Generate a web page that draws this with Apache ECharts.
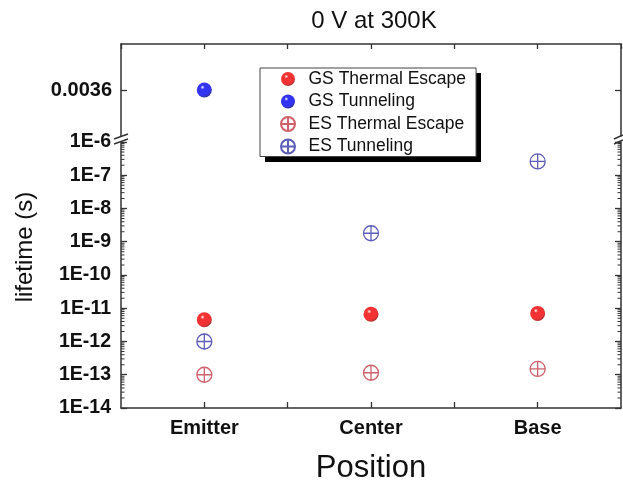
<!DOCTYPE html>
<html>
<head>
<meta charset="utf-8">
<script src="https://cdn.jsdelivr.net/npm/echarts@6/dist/echarts.min.js"></script>
<style>
html,body{margin:0;padding:0;background:#fff;}
#chart{width:623px;height:489px;}
</style>
</head>
<body>
<div id="chart"></div>
<script>
// ---- data ----
var categories = ['Emitter', 'Center', 'Base'];
var gsThermalEscape = [4.5e-12, 6.6e-12, 7.0e-12];
var gsTunneling = [0.0036, null, null];
var esThermalEscape = [1.0e-13, 1.15e-13, 1.5e-13];
var esTunneling = [1.0e-12, 1.8e-9, 2.6e-7];
var topTicks = [0.0036];
var logMin = 1e-14, logMax = 1e-6;

function toPairs(arr) {
  var out = [];
  arr.forEach(function (v, i) { if (v != null) out.push([i + 1, v]); });
  return out;
}
// minor tick values (2..9 x 10^n)
var minorVals = [];
for (var e = -14; e < -6; e++) {
  for (var k = 2; k <= 9; k++) minorVals.push(k * Math.pow(10, e));
}

function ball(base, dark) {
  return {
    type: 'radial', x: 0.38, y: 0.32, r: 0.7,
    colorStops: [
      { offset: 0, color: '#ffffff' },
      { offset: 0.2, color: base },
      { offset: 0.75, color: base },
      { offset: 1, color: dark }
    ]
  };
}
var crossPath = 'path://M0,10 A10,10 0 1 1 20,10 A10,10 0 1 1 0,10 Z M0,10 L20,10 M10,0 L10,20';
var axisColor = '#333';
var font = 'Liberation Sans, Arial, sans-serif';

var chart = echarts.init(document.getElementById('chart'));
var option = {
  animation: false,
  backgroundColor: '#fff',
  grid: [
    { left: 121, right: 2, top: 44, height: 92 },
    { left: 121, right: 2, top: 142, bottom: 75 }
  ],
  xAxis: [
    {
      gridIndex: 0, type: 'value', min: 0.5, max: 3.5, interval: 0.5, position: 'top',
      axisLine: { show: true, lineStyle: { color: axisColor, width: 1.5 } },
      axisTick: { show: true, inside: true, length: 5, lineStyle: { color: axisColor, width: 1.3 } },
      axisLabel: { show: false }, splitLine: { show: false }
    },
    {
      gridIndex: 1, type: 'value', min: 0.5, max: 3.5, interval: 0.5, position: 'bottom',
      axisLine: { show: true, lineStyle: { color: axisColor, width: 1.5 } },
      axisTick: { show: true, inside: true, length: 6, lineStyle: { color: axisColor, width: 1.3 } },
      axisLabel: {
        show: true, margin: 10, color: '#111', fontFamily: font, fontWeight: 'bold', fontSize: 20,
        showMinLabel: false, showMaxLabel: false,
        formatter: function (v) {
          var i = Math.round(v);
          return Math.abs(v - i) < 1e-6 && categories[i - 1] ? categories[i - 1] : '';
        }
      },
      splitLine: { show: false },
      name: 'Position', nameLocation: 'middle', nameGap: 45,
      nameTextStyle: { fontFamily: font, fontSize: 31, color: '#111' }
    }
  ],
  yAxis: [
    {
      gridIndex: 0, type: 'value', min: 0.0026, max: 0.0046, position: 'left',
      axisLine: { show: true, lineStyle: { color: axisColor, width: 1.5 } },
      axisTick: { show: true, inside: true, length: 6, customValues: topTicks, lineStyle: { color: axisColor, width: 1.3 } },
      axisLabel: { show: true, margin: 9, customValues: topTicks, color: '#111', fontFamily: font, fontWeight: 'bold', fontSize: 20,
        formatter: function (v) { return String(v); } },
      splitLine: { show: false }
    },
    {
      gridIndex: 0, type: 'value', min: 0.0026, max: 0.0046, position: 'right',
      axisLine: { show: true, lineStyle: { color: axisColor, width: 1.5 } },
      axisTick: { show: true, inside: true, length: 6, customValues: topTicks, lineStyle: { color: axisColor, width: 1.3 } },
      axisLabel: { show: false }, splitLine: { show: false }
    },
    {
      gridIndex: 1, type: 'log', logBase: 10, min: logMin, max: logMax, splitNumber: 8, position: 'left',
      axisLine: { show: true, lineStyle: { color: axisColor, width: 1.5 } },
      axisTick: { show: true, inside: true, length: 6, lineStyle: { color: axisColor, width: 1.3 } },
      axisLabel: { show: true, margin: 10, color: '#111', fontFamily: font, fontWeight: 'bold', fontSize: 19.5,
        formatter: function (v) { return '1E' + Math.round(Math.log10(v)); } },
      splitLine: { show: false }
    },
    {
      gridIndex: 1, type: 'log', logBase: 10, min: logMin, max: logMax, splitNumber: 8, position: 'right',
      axisLine: { show: true, lineStyle: { color: axisColor, width: 1.5 } },
      axisTick: { show: true, inside: true, length: 6, lineStyle: { color: axisColor, width: 1.3 } },
      axisLabel: { show: false }, splitLine: { show: false }
    }
  ],
  legend: {
    orient: 'vertical', left: 260, top: 68, z: 10,
    padding: [2, 10, 1, 20], itemGap: 4.5, itemWidth: 31, itemHeight: 14,
    backgroundColor: '#fff', borderColor: '#444', borderWidth: 1,
    textStyle: { fontFamily: font, fontSize: 17.5, lineHeight: 17, color: '#111' },
    data: ['GS Thermal Escape', 'GS Tunneling', 'ES Thermal Escape', 'ES Tunneling']
  },
  graphic: [
    { type: 'text', x: 25, y: 247, rotation: Math.PI / 2,
      style: { text: 'lifetime (s)', font: '24px ' + font, fill: '#111', textAlign: 'center', textVerticalAlign: 'middle' } },
    { type: 'text', x: 374, y: 21,
      style: { text: '0 V at 300K', font: '24px ' + font, fill: '#111', textAlign: 'center', textVerticalAlign: 'middle' } },
    // legend drop shadow (drawn behind the legend box)
    { type: 'rect', z: 5, shape: { x: 265, y: 73, width: 216, height: 89 }, style: { fill: '#000' } },
    // axis break marks
    { type: 'line', shape: { x1: 114, y1: 139, x2: 128, y2: 134 }, style: { stroke: axisColor, lineWidth: 1.5 } },
    { type: 'line', shape: { x1: 114, y1: 144, x2: 128, y2: 139 }, style: { stroke: axisColor, lineWidth: 1.5 } },
    { type: 'line', shape: { x1: 614, y1: 139, x2: 623, y2: 135 }, style: { stroke: axisColor, lineWidth: 1.5 } },
    { type: 'line', shape: { x1: 614, y1: 144, x2: 623, y2: 140 }, style: { stroke: axisColor, lineWidth: 1.5 } }
  ],
  series: [
    {
      name: 'GS Thermal Escape', type: 'scatter', xAxisIndex: 1, yAxisIndex: 2,
      symbol: 'circle', symbolSize: 15,
      itemStyle: { color: ball('#f00000', '#990000') },
      data: toPairs(gsThermalEscape), z: 3
    },
    {
      name: 'GS Tunneling', type: 'scatter', xAxisIndex: 0, yAxisIndex: 0,
      symbol: 'circle', symbolSize: 15,
      itemStyle: { color: ball('#0000f0', '#000080') },
      data: toPairs(gsTunneling), z: 3
    },
    {
      name: 'ES Thermal Escape', type: 'scatter', xAxisIndex: 1, yAxisIndex: 2,
      symbol: crossPath, symbolSize: 15,
      itemStyle: { color: 'rgba(0,0,0,0)', borderColor: '#c23a44', borderWidth: 1.3 },
      data: toPairs(esThermalEscape), z: 3
    },
    {
      name: 'ES Tunneling', type: 'scatter', xAxisIndex: 1, yAxisIndex: 2,
      symbol: crossPath, symbolSize: 15,
      itemStyle: { color: 'rgba(0,0,0,0)', borderColor: '#3535a8', borderWidth: 1.3 },
      data: toPairs(esTunneling), z: 3
    },
    {
      name: 'minorTicks', type: 'custom', xAxisIndex: 1, yAxisIndex: 2, silent: true,
      data: minorVals.map(function (v) { return [1, v]; }),
      encode: { x: 0, y: 1 },
      renderItem: function (params, api) {
        var v = api.value(1);
        var pL = api.coord([0.5, v]);
        var pR = api.coord([3.5, v]);
        var st = { stroke: axisColor, lineWidth: 1 };
        return {
          type: 'group',
          children: [
            { type: 'line', shape: { x1: pL[0], y1: pL[1], x2: pL[0] + 3.5, y2: pL[1] }, style: st },
            { type: 'line', shape: { x1: pR[0], y1: pR[1], x2: pR[0] - 3.5, y2: pR[1] }, style: st }
          ]
        };
      }
    }
  ]
};
chart.setOption(option);
</script>
</body>
</html>
